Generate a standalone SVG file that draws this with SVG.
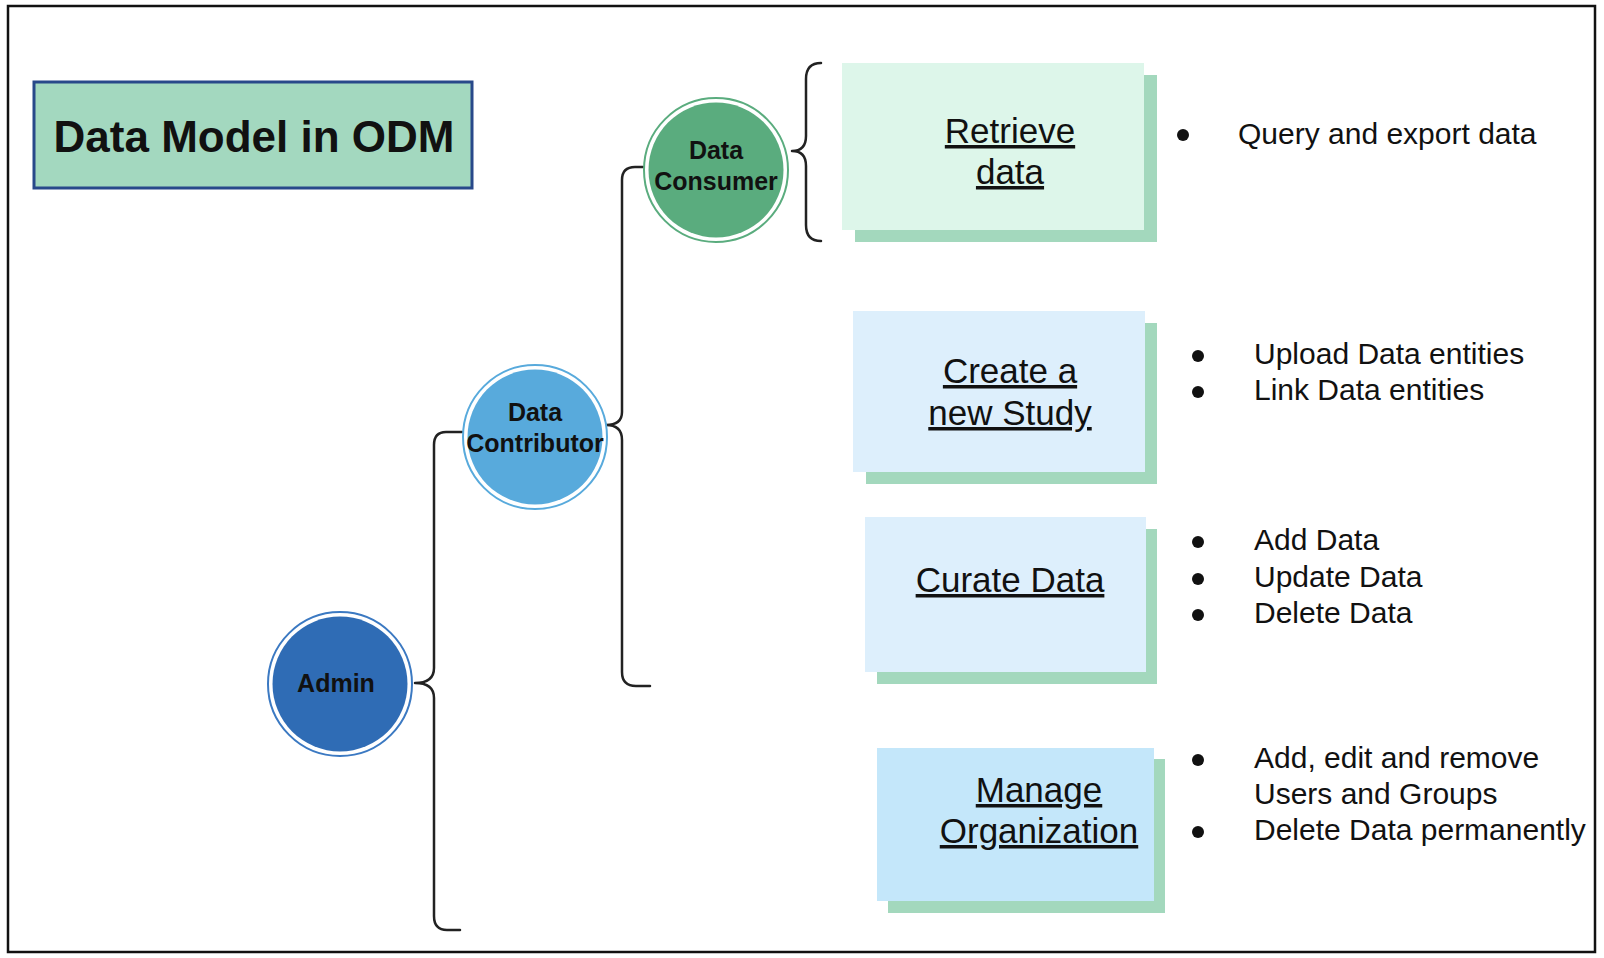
<svg xmlns="http://www.w3.org/2000/svg" width="1604" height="958" viewBox="0 0 1604 958">
<style>
.frame{fill:#fff;stroke:#111;stroke-width:2.5}
.title{font-family:"Liberation Sans",Arial,sans-serif;font-weight:bold;font-size:44px;fill:#111;text-anchor:middle}
.clabel{font-family:"Liberation Sans",Arial,sans-serif;font-weight:bold;font-size:25px;fill:#111;text-anchor:middle}
.blabel{font-family:"Liberation Sans",Arial,sans-serif;font-size:35px;fill:#111;text-anchor:middle;text-decoration:underline}
.item{font-family:"Liberation Sans",Arial,sans-serif;font-size:30px;fill:#111}
.dot{fill:#111}
.shadow{fill:#a3d8bd}
.conn{fill:none;stroke:#222;stroke-width:2.5;stroke-linecap:round;stroke-linejoin:round}
</style>
<rect class="frame" x="8" y="6" width="1587" height="946"/>
<g id="title">
<rect x="34" y="82" width="438" height="106" fill="#a3d8bf" stroke="#28498a" stroke-width="3"/>
<text class="title" x="254" y="152">Data Model in ODM</text>
</g>
<g id="connectors">
<path class="conn" d="M821 63 Q806 63 806 79 V136 Q806 151 792 151 Q806 151 806 166 V225 Q806 241 821 241"/>
<path class="conn" d="M643 167 H635 Q622 167 622 180 V412 Q622 425 606 425 Q622 425 622 440 V672 Q622 686 636 686 H650"/>
<path class="conn" d="M462 432 H446 Q434 432 434 445 V668 Q434 683 415 683 Q434 683 434 698 V916 Q434 930 447 930 H460"/>
</g>
<g id="data-consumer">
<circle cx="716" cy="170" r="72" fill="#fff" stroke="#5aac7e" stroke-width="2"/>
<circle cx="716" cy="170" r="67.5" fill="#5aac7e"/>
<text class="clabel" x="716" y="159">Data</text>
<text class="clabel" x="716" y="190">Consumer</text>
</g>
<g id="data-contributor">
<circle cx="535" cy="437" r="72" fill="#fff" stroke="#58aadc" stroke-width="2"/>
<circle cx="535" cy="437" r="67.5" fill="#58aadc"/>
<text class="clabel" x="535" y="421">Data</text>
<text class="clabel" x="535" y="452">Contributor</text>
</g>
<g id="admin">
<circle cx="340" cy="684" r="72" fill="#fff" stroke="#3b79c2" stroke-width="2"/>
<circle cx="340" cy="684" r="67.5" fill="#2f6cb5"/>
<text class="clabel" x="336" y="692">Admin</text>
</g>
<g id="retrieve-data">
<rect class="shadow" x="855" y="75" width="302" height="167"/>
<rect x="842" y="63" width="302" height="167" fill="#ddf6ea"/>
<text class="blabel" x="1010" y="143">Retrieve</text>
<text class="blabel" x="1010" y="184">data</text>
</g>
<g id="create-study">
<rect class="shadow" x="866" y="323" width="291" height="161"/>
<rect x="853" y="311" width="292" height="161" fill="#ddeffc"/>
<text class="blabel" x="1010" y="383">Create a</text>
<text class="blabel" x="1010" y="425">new Study</text>
</g>
<g id="curate-data">
<rect class="shadow" x="877" y="529" width="280" height="155"/>
<rect x="865" y="517" width="281" height="155" fill="#ddeffc"/>
<text class="blabel" x="1010" y="592">Curate Data</text>
</g>
<g id="manage-organization">
<rect class="shadow" x="888" y="759" width="277" height="154"/>
<rect x="877" y="748" width="277" height="153" fill="#c4e7fa"/>
<text class="blabel" x="1039" y="802">Manage</text>
<text class="blabel" x="1039" y="843">Organization</text>
</g>
<g id="retrieve-items">
<circle class="dot" cx="1183" cy="135" r="6"/>
<text class="item" x="1238" y="144">Query and export data</text>
</g>
<g id="study-items">
<circle class="dot" cx="1198" cy="356" r="6"/>
<text class="item" x="1254" y="364">Upload Data entities</text>
<circle class="dot" cx="1198" cy="392" r="6"/>
<text class="item" x="1254" y="400">Link Data entities</text>
</g>
<g id="curate-items">
<circle class="dot" cx="1198" cy="542" r="6"/>
<text class="item" x="1254" y="550">Add Data</text>
<circle class="dot" cx="1198" cy="579" r="6"/>
<text class="item" x="1254" y="587">Update Data</text>
<circle class="dot" cx="1198" cy="615" r="6"/>
<text class="item" x="1254" y="623">Delete Data</text>
</g>
<g id="manage-items">
<circle class="dot" cx="1198" cy="760" r="6"/>
<text class="item" x="1254" y="768">Add, edit and remove</text>
<text class="item" x="1254" y="804">Users and Groups</text>
<circle class="dot" cx="1198" cy="832" r="6"/>
<text class="item" x="1254" y="840">Delete Data permanently</text>
</g>
</svg>
